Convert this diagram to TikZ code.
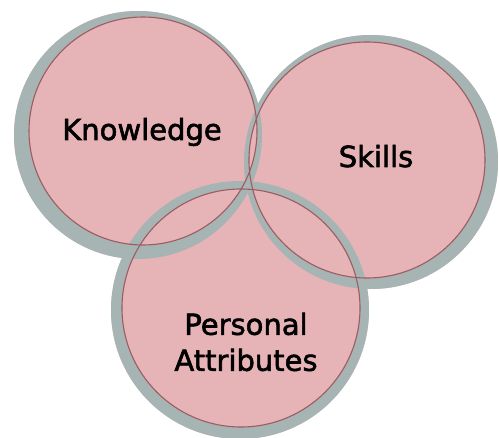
\documentclass[tikz,border=0pt]{standalone}
\usepackage{fontspec}
\setmainfont{DejaVu Sans}
\newfontfamily\letra[FakeBold=2]{DejaVu Sans}
\definecolor{rosa}{RGB}{230,180,182}
\definecolor{cinza}{RGB}{166,180,180}
\definecolor{vinho}{RGB}{158,92,98}

\begin{document}
\begin{tikzpicture}[
        x=1pt, y=-1pt,
        disco/.style={fill=rosa},
        anel/.style={fill=cinza, even odd rule},
        borda/.style={draw=vinho, line width=1.1pt},
        rotulo/.style={font=\letra\fontsize{29}{36}\selectfont, align=center, inner sep=0pt},
    ]
    \useasboundingbox (0,0) rectangle (499,438);

    % discos
    \fill[disco] (138,135) circle (124);
    \fill[disco] (371,162) circle (127);
    \fill[disco] (240,310) circle (129);

    % aneis por cima de tudo
    \fill[anel] (138,135) circle (124) (143,131) circle (114);
    \fill[anel] (371,162) circle (127) (367,160) circle (118);
    \fill[anel] (240,310) circle (129) (241,308) circle (119);

    \draw[borda] (143,131) circle (114);
    \draw[borda] (367,160) circle (118);
    \draw[borda] (241,308) circle (119);

    \node[rotulo, anchor=base] (k) at (142,140) {Knowledge};
    \node[rotulo, anchor=base] (s) at (376,167) {Skills};
    \node[rotulo] (p) at (246,342) {Personal\\Attributes};
\end{tikzpicture}
\end{document}
